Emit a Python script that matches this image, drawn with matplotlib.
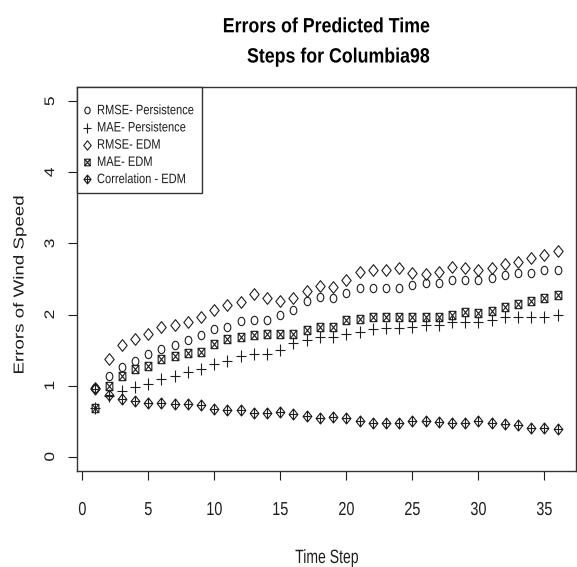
import numpy as np
import matplotlib.pyplot as plt
from matplotlib.path import Path
from matplotlib.transforms import Affine2D, blended_transform_factory
from matplotlib.patheffects import AbstractPathEffect

# data
steps = np.arange(1, 37)

rmse_persist = [0.97, 1.13, 1.26, 1.35, 1.44, 1.52, 1.57, 1.64, 1.71, 1.79, 1.83, 1.91,
                1.93, 1.93, 1.99, 2.07, 2.19, 2.24, 2.23, 2.31, 2.38, 2.37, 2.37, 2.37,
                2.42, 2.44, 2.45, 2.49, 2.49, 2.49, 2.52, 2.56, 2.58, 2.58, 2.62, 2.63]
mae_persist = [0.69, 0.86, 0.93, 0.98, 1.03, 1.09, 1.14, 1.19, 1.24, 1.30, 1.35, 1.42,
               1.44, 1.44, 1.50, 1.60, 1.64, 1.69, 1.69, 1.73, 1.76, 1.80, 1.81, 1.81,
               1.83, 1.85, 1.86, 1.90, 1.90, 1.90, 1.92, 1.96, 1.96, 1.97, 1.97, 2.00]
rmse_edm = [0.97, 1.38, 1.57, 1.65, 1.72, 1.83, 1.85, 1.90, 1.97, 2.07, 2.13, 2.18,
            2.29, 2.23, 2.19, 2.23, 2.33, 2.40, 2.39, 2.49, 2.60, 2.62, 2.63, 2.65,
            2.59, 2.57, 2.60, 2.67, 2.65, 2.63, 2.65, 2.71, 2.74, 2.79, 2.84, 2.89]
mae_edm = [0.69, 1.00, 1.14, 1.24, 1.28, 1.38, 1.42, 1.46, 1.48, 1.58, 1.65, 1.69,
           1.71, 1.72, 1.72, 1.73, 1.78, 1.83, 1.83, 1.93, 1.94, 1.96, 1.96, 1.97,
           1.96, 1.97, 1.97, 2.00, 2.04, 2.02, 2.05, 2.10, 2.15, 2.19, 2.23, 2.28]
corr_edm = [0.95, 0.87, 0.81, 0.79, 0.76, 0.75, 0.74, 0.74, 0.73, 0.67, 0.66, 0.66,
            0.62, 0.62, 0.63, 0.60, 0.58, 0.55, 0.56, 0.54, 0.51, 0.48, 0.48, 0.47,
            0.51, 0.51, 0.49, 0.47, 0.47, 0.50, 0.48, 0.46, 0.45, 0.41, 0.41, 0.39]

labels = ['RMSE- Persistence', 'MAE- Persistence', 'RMSE- EDM', 'MAE- EDM',
          'Correlation - EDM']
x_ticks = [0, 5, 10, 15, 20, 25, 30, 35]
y_ticks = [0, 1, 2, 3, 4, 5]

W, H = 577, 567
ink = '#1e1e1e'
FONT = ['Liberation Sans', 'DejaVu Sans']


class Squash(AbstractPathEffect):
    """scale glyphs (along, across) the text direction, keeps baseline + centre"""
    def __init__(self, sx=1.0, sy=1.0):
        super().__init__()
        self.sx, self.sy = sx, sy

    def draw_path(self, renderer, gc, tpath, affine, rgbFace=None):
        ext = tpath.get_extents()
        cx = (ext.x0 + ext.x1) / 2
        t = Affine2D().translate(-cx, 0).scale(self.sx, self.sy).translate(cx, 0) + affine
        renderer.draw_path(gc, tpath, t, rgbFace)


# R style symbols, a bit narrower than tall like the original picture
q = 0.8
M, L, C = Path.MOVETO, Path.LINETO, Path.CLOSEPOLY
circ = Path.unit_circle().transformed(Affine2D().scale(q, 1))
plus = Path([(-q, 0), (q, 0), (0, -1), (0, 1)], [M, L, M, L])
diam = Path([(0, 1), (q, 0), (0, -1), (-q, 0), (0, 1)], [M, L, L, L, C])
boxx = Path([(-q, -1), (q, -1), (q, 1), (-q, 1), (-q, -1),
             (-q, -1), (q, 1), (-q, 1), (q, -1)],
            [M, L, L, L, C, M, L, M, L])
diamplus = Path([(0, 1), (q, 0), (0, -1), (-q, 0), (0, 1),
                 (-q, 0), (q, 0), (0, -1), (0, 1)],
                [M, L, L, L, C, M, L, M, L])

fig = plt.figure(figsize=(W / 100, H / 100), dpi=100)
ax = fig.add_axes([77 / W, 1 - 471 / H, 499 / W, 384 / H])

mk = dict(linestyle='none', markerfacecolor='none', color=ink, markeredgewidth=0.8)
h1, = ax.plot(steps, rmse_persist, marker=circ, markersize=6.0, **mk)
h2, = ax.plot(steps, mae_persist, marker=plus, markersize=8.2, **mk)
h3, = ax.plot(steps, rmse_edm, marker=diam, markersize=8.4, **mk)
h4, = ax.plot(steps, mae_edm, marker=boxx, markersize=6.0, **mk)
h5, = ax.plot(steps, corr_edm, marker=diamplus, markersize=7.9, **mk)

ax.set_xlim(-0.4, 37.4)
ax.set_ylim(-0.2, 5.2)
ax.set_xticks(x_ticks)
ax.set_yticks(y_ticks)
ax.tick_params(axis='both', direction='out', length=6.5, width=0.8, color=ink,
               labelbottom=False, labelleft=False)
for s in ax.spines.values():
    s.set_color('#333333')
    s.set_linewidth(1.0)

# tick labels, placed like R does (y labels parallel to the axis)
tx = blended_transform_factory(ax.transData, fig.transFigure)
ty = blended_transform_factory(fig.transFigure, ax.transData)
for t in x_ticks:
    ax.text(t, 1 - 515 / H, str(t), transform=tx, ha='center', va='baseline',
            family=FONT, fontsize=10.4, color=ink, path_effects=[Squash(1, 1.3)])
for t in y_ticks:
    ax.text(54 / W, t, str(t), transform=ty, ha='center', va='baseline', rotation=90,
            rotation_mode='anchor', family=FONT, fontsize=12.5, color=ink,
            path_effects=[Squash(1, 0.8)])

fig.text(327 / W, 1 - 563 / H, 'Time Step', ha='center', va='baseline', family=FONT,
         fontsize=10.1, color=ink, path_effects=[Squash(1, 1.37)])
fig.text(23.5 / W, 1 - 285 / H, 'Errors of Wind Speed', ha='center', va='baseline',
         rotation=90, rotation_mode='anchor', family=FONT, fontsize=13.5, color=ink,
         path_effects=[Squash(1, 0.77)])

# title, second line sits a bit to the right as in the original
fig.text(326.5 / W, 1 - 32.3 / H, 'Errors of Predicted Time', ha='center', va='baseline',
         family=FONT, fontsize=12.8, fontweight='bold', color='black',
         path_effects=[Squash(1, 1.16)])
fig.text(338.5 / W, 1 - 62.5 / H, 'Steps for Columbia98', ha='center', va='baseline',
         family=FONT, fontsize=12.8, fontweight='bold', color='black',
         path_effects=[Squash(1, 1.16)])

leg = ax.legend([h1, h2, h3, h4, h5], labels, loc='upper left', borderaxespad=0,
                fancybox=False, framealpha=1, edgecolor='#333333', markerscale=0.8,
                handlelength=0.36, handletextpad=0.72, borderpad=0.72,
                labelspacing=0.65, title=' ', title_fontsize=3,
                prop={'family': FONT, 'size': 8})
leg.get_frame().set_linewidth(1.0)
for t in leg.get_texts():
    t.set_color(ink)
    t.set_path_effects([Squash(1, 1.23)])

fig.savefig('out.png', dpi=100)
